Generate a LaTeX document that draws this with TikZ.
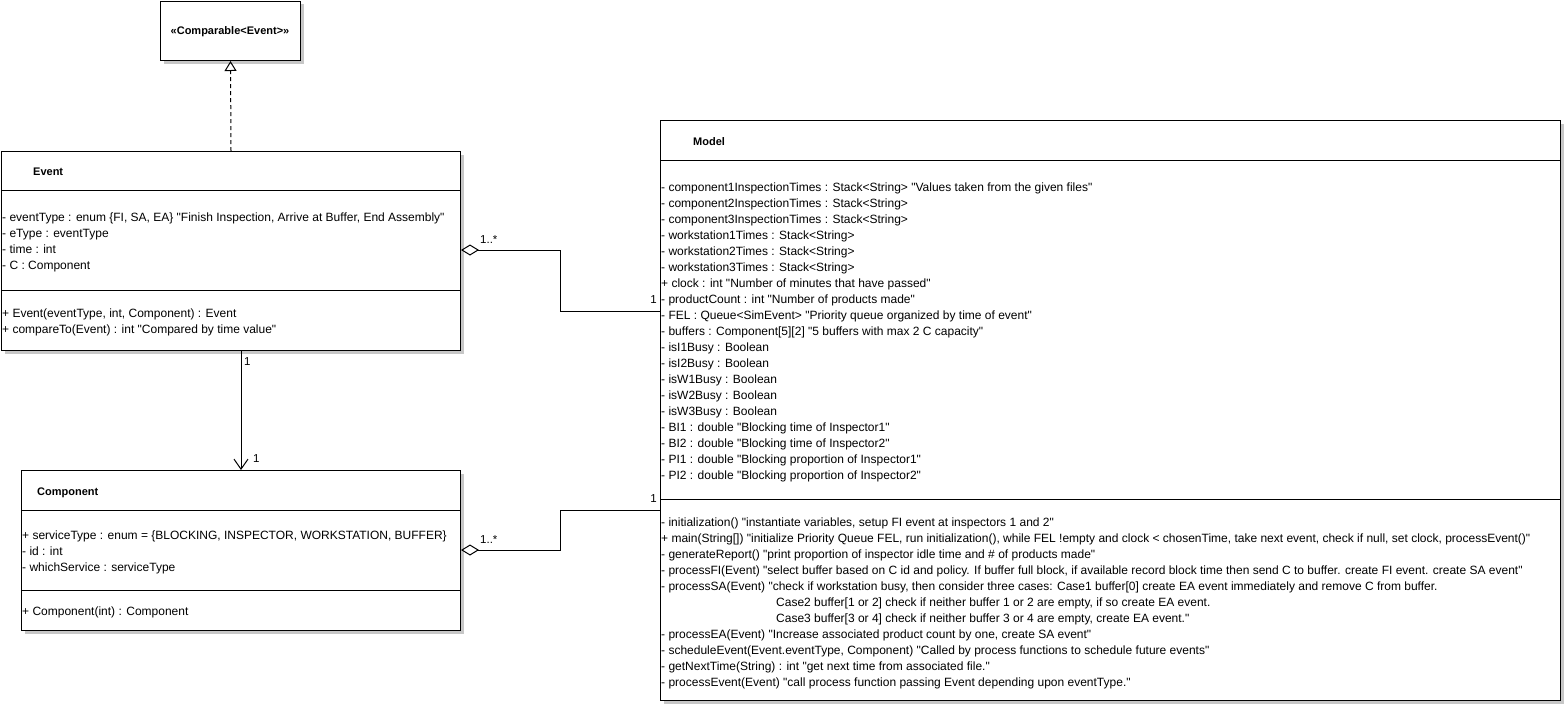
\documentclass[tikz,border=0pt]{standalone}
\usepackage{fontspec}
\setmainfont{Liberation Sans}[Ligatures=TeXOff]
\usetikzlibrary{arrows.meta}
\tikzset{
  box/.style={draw=black, line width=1pt, fill=white, anchor=north west, inner sep=0pt},
  shadowbox/.style={fill=black!22, draw=none},
  txt/.style={anchor=base west, inner sep=0pt, font=\fontsize{12}{14}\selectfont},
  ttl/.style={anchor=base west, inner sep=0pt, font=\bfseries\fontsize{11}{13}\selectfont},
  mult/.style={inner sep=0pt, font=\fontsize{11.5}{13}\selectfont},
  conn/.style={draw=black, line width=1pt},
}
\begin{document}
\begin{tikzpicture}[x=1pt,y=-1pt]
\useasboundingbox (0,0) rectangle (1565,705);
% shadows
\fill[shadowbox] (164,4) rectangle (304,64);
\fill[shadowbox] (5,155) rectangle (464,354);
\fill[shadowbox] (25,474) rectangle (464,634);
\fill[shadowbox] (664,124) rectangle (1564,704);
% boxes
\node[box, minimum width=140pt, minimum height=59pt] (cmp) at (160,1) {};
\node[box, minimum width=459pt, minimum height=199pt] (event) at (1,151) {};
\node[box, minimum width=439pt, minimum height=160pt] (comp) at (21,470) {};
\node[box, minimum width=900pt, minimum height=580pt] (model) at (660,120) {};
% dividers
\draw[line width=1pt] (event.west |- 0,190) -- (event.east |- 0,190);
\draw[line width=1pt] (event.west |- 0,290) -- (event.east |- 0,290);
\draw[line width=1pt] (comp.west |- 0,510) -- (comp.east |- 0,510);
\draw[line width=1pt] (comp.west |- 0,590) -- (comp.east |- 0,590);
\draw[line width=1pt] (model.west |- 0,160) -- (model.east |- 0,160);
\draw[line width=1pt] (model.west |- 0,499) -- (model.east |- 0,499);
% Comparable
\node[ttl, anchor=base] (cmpt) at (230,34) {«Comparable<Event>»};
% Event
\node[ttl] (evt) at (33,175) {Event};
\node[txt] (e1) at (2,221) {- eventType : enum \{FI, SA, EA\} "Finish Inspection, Arrive at Buffer, End Assembly"};
\node[txt] (e2) at (2,237) {- eType : eventType};
\node[txt] (e3) at (2,253) {- time : int};
\node[txt] (e4) at (2,269) {- C : Component};
\node[txt] (e5) at (2,317) {+ Event(eventType, int, Component) : Event};
\node[txt] (e6) at (2,333) {+ compareTo(Event) : int "Compared by time value"};
% Component
\node[ttl] (ct) at (37,495) {Component};
\node[txt] (c1) at (22,539) {+ serviceType : enum = \{BLOCKING, INSPECTOR, WORKSTATION, BUFFER\}};
\node[txt] (c2) at (22,555) {- id : int};
\node[txt] (c3) at (22,571) {- whichService : serviceType};
\node[txt] (c4) at (22,615) {+ Component(int) : Component};
% Model
\node[ttl] (mt) at (693,145) {Model};
\node[txt] (a1) at (661,191) {- component1InspectionTimes : Stack<String> "Values taken from the given files"};
\node[txt] (a2) at (661,207) {- component2InspectionTimes : Stack<String>};
\node[txt] (a3) at (661,223) {- component3InspectionTimes : Stack<String>};
\node[txt] (a4) at (661,239) {- workstation1Times : Stack<String>};
\node[txt] (a5) at (661,255) {- workstation2Times : Stack<String>};
\node[txt] (a6) at (661,271) {- workstation3Times : Stack<String>};
\node[txt] (a7) at (661,287) {+ clock : int "Number of minutes that have passed"};
\node[txt] (a8) at (661,303) {- productCount : int "Number of products made"};
\node[txt] (a9) at (661,319) {- FEL : Queue<SimEvent> "Priority queue organized by time of event"};
\node[txt] (a10) at (661,335) {- buffers : Component[5][2] "5 buffers with max 2 C capacity"};
\node[txt] (a11) at (661,351) {- isI1Busy : Boolean};
\node[txt] (a12) at (661,367) {- isI2Busy : Boolean};
\node[txt] (a13) at (661,383) {- isW1Busy : Boolean};
\node[txt] (a14) at (661,399) {- isW2Busy : Boolean};
\node[txt] (a15) at (661,415) {- isW3Busy : Boolean};
\node[txt] (a16) at (661,431) {- BI1 : double "Blocking time of Inspector1"};
\node[txt] (a17) at (661,447) {- BI2 : double "Blocking time of Inspector2"};
\node[txt] (a18) at (661,463) {- PI1 : double "Blocking proportion of Inspector1"};
\node[txt] (a19) at (661,479) {- PI2 : double "Blocking proportion of Inspector2"};
\node[txt] (m1) at (661,526) {- initialization() "instantiate variables, setup FI event at inspectors 1 and 2"};
\node[txt] (m2) at (661,542) {+ main(String[]) "initialize Priority Queue FEL, run initialization(), while FEL !empty and clock < chosenTime, take next event, check if null, set clock, processEvent()"};
\node[txt] (m3) at (661,558) {- generateReport() "print proportion of inspector idle time and \# of products made"};
\node[txt] (m4) at (661,574) {- processFI(Event) "select buffer based on C id and policy. If buffer full block, if available record block time then send C to buffer. create FI event. create SA event"};
\node[txt] (m5) at (661,590) {- processSA(Event) "check if workstation busy, then consider three cases: Case1 buffer[0] create EA event immediately and remove C from buffer.};
\node[txt] (m6) at (776,606) {Case2 buffer[1 or 2] check if neither buffer 1 or 2 are empty, if so create EA event.};
\node[txt] (m7) at (776,622) {Case3 buffer[3 or 4] check if neither buffer 3 or 4 are empty, create EA event."};
\node[txt] (m8) at (661,638) {- processEA(Event) "Increase associated product count by one, create SA event"};
\node[txt] (m9) at (661,654) {- scheduleEvent(Event.eventType, Component) "Called by process functions to schedule future events"};
\node[txt] (m10) at (661,670) {- getNextTime(String) : int "get next time from associated file."};
\node[txt] (m11) at (661,686) {- processEvent(Event) "call process function passing Event depending upon eventType."};
% connectors
\draw[conn, dash pattern=on 4pt off 3pt, -{Triangle[open, length=10pt, width=12pt]}] (event.north) -- (cmp.south);
\draw[conn, {Diamond[open, length=18pt, width=11pt]}-] (event.east |- 0,250) -- (560,250) |- (model.west |- 0,311);
\draw[conn, -{Straight Barb[length=10pt, width=14pt]}] (comp.north |- event.south) -- (comp.north);
\draw[conn, {Diamond[open, length=18pt, width=11pt]}-] (comp.east |- 0,550) -- (560,550) |- (model.west |- 0,510);
% multiplicities
\node[mult, anchor=west] (l1) at (480,240) {1..*};
\node[mult, anchor=east] (l2) at (657,300) {1};
\node[mult, anchor=west] (l3) at (244,362) {1};
\node[mult, anchor=west] (l4) at (253,459) {1};
\node[mult, anchor=west] (l5) at (480,540) {1..*};
\node[mult, anchor=east] (l6) at (657,499) {1};
\end{tikzpicture}
\end{document}
